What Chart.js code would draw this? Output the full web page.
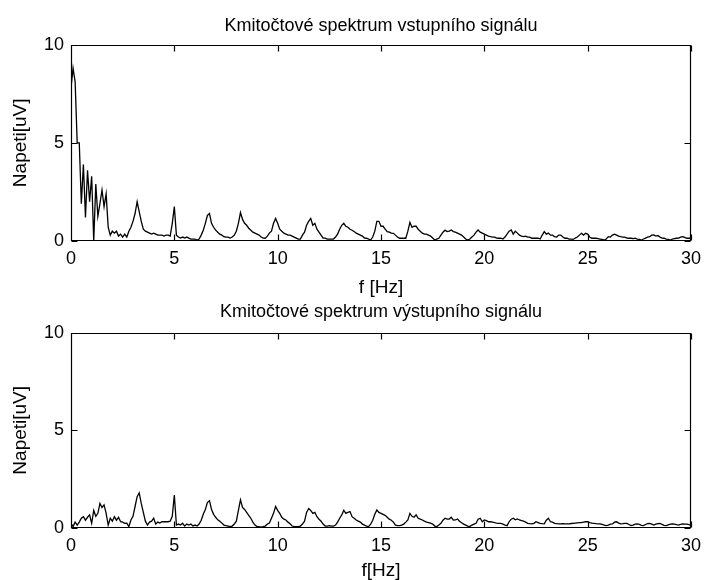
<!DOCTYPE html>
<html>
<head>
<meta charset="utf-8">
<script src="https://cdn.jsdelivr.net/npm/chart.js@4.4.1/dist/chart.umd.min.js"></script>
<style>
  body { margin: 0; background: #fff; }
  #wrap { position: relative; width: 708px; height: 580px; }
  #topChart { position: absolute; left: 0; top: 0; }
  #bottomChart { position: absolute; left: 0; top: 300px; }
</style>
</head>
<body>
<div id="wrap">
  <canvas id="topChart" width="708" height="300"></canvas>
  <canvas id="bottomChart" width="708" height="280"></canvas>
</div>
<script>
// spectrum sampled every 0.1 Hz from 0 to 30 Hz
const freqStep = 0.1;

// input signal spectrum [uV]
const inputSpectrum = [
  7.8, 8.8, 8.1, 5.0, 5.0, 1.9, 3.9, 1.2, 3.6, 2.0,
  3.3, 0.0, 2.9, 1.25, 1.9, 2.6, 1.75, 2.4, 0.7, 0.3,
  0.5, 0.4, 0.5, 0.25, 0.35, 0.2, 0.35, 0.2, 0.5, 0.7,
  1.0, 1.4, 2.0, 1.5, 1.0, 0.6, 0.5, 0.45, 0.4, 0.35,
  0.4, 0.35, 0.3, 0.3, 0.3, 0.25, 0.3, 0.3, 0.25, 0.9,
  1.75, 0.3, 0.2, 0.15, 0.2, 0.15, 0.2, 0.15, 0.1, 0.1,
  0.1, 0.05, 0.1, 0.3, 0.55, 0.9, 1.3, 1.4, 0.9, 0.7,
  0.55, 0.45, 0.35, 0.3, 0.22, 0.2, 0.2, 0.15, 0.2, 0.3,
  0.5, 0.9, 1.45, 1.1, 0.9, 0.8, 0.65, 0.55, 0.45, 0.4,
  0.35, 0.3, 0.2, 0.15, 0.14, 0.25, 0.4, 0.5, 0.9, 1.15,
  0.9, 0.6, 0.5, 0.4, 0.35, 0.3, 0.3, 0.25, 0.2, 0.15,
  0.1, 0.1, 0.3, 0.45, 0.8, 1.0, 1.15, 0.8, 0.9, 0.6,
  0.45, 0.3, 0.15, 0.15, 0.1, 0.1, 0.1, 0.1, 0.2, 0.35,
  0.6, 0.8, 0.9, 0.75, 0.7, 0.6, 0.55, 0.48, 0.4, 0.35,
  0.3, 0.25, 0.15, 0.14, 0.1, 0.05, 0.2, 0.5, 1.0, 1.0,
  0.75, 0.75, 0.6, 0.48, 0.45, 0.4, 0.39, 0.3, 0.2, 0.14,
  0.14, 0.14, 0.14, 0.5, 0.95, 0.7, 0.75, 0.75, 0.6, 0.5,
  0.4, 0.35, 0.35, 0.3, 0.25, 0.15, 0.05, 0.1, 0.14, 0.3,
  0.45, 0.55, 0.48, 0.5, 0.56, 0.48, 0.45, 0.4, 0.35, 0.3,
  0.2, 0.1, 0.05, 0.1, 0.2, 0.3, 0.45, 0.56, 0.45, 0.4,
  0.35, 0.3, 0.25, 0.22, 0.2, 0.2, 0.15, 0.14, 0.14, 0.1,
  0.2, 0.35, 0.5, 0.56, 0.35, 0.5, 0.4, 0.3, 0.25, 0.22,
  0.25, 0.2, 0.2, 0.14, 0.14, 0.15, 0.14, 0.1, 0.3, 0.48,
  0.35, 0.4, 0.3, 0.3, 0.22, 0.2, 0.3, 0.3, 0.2, 0.14,
  0.14, 0.1, 0.1, 0.08, 0.15, 0.2, 0.3, 0.39, 0.3, 0.39,
  0.35, 0.2, 0.14, 0.14, 0.14, 0.12, 0.1, 0.08, 0.05, 0.1,
  0.22, 0.2, 0.3, 0.35, 0.3, 0.25, 0.22, 0.2, 0.2, 0.15,
  0.14, 0.14, 0.12, 0.14, 0.1, 0.08, 0.05, 0.1, 0.15, 0.2,
  0.22, 0.3, 0.31, 0.25, 0.28, 0.2, 0.15, 0.14, 0.1, 0.08,
  0.05, 0.1, 0.12, 0.14, 0.15, 0.2, 0.22, 0.18, 0.14, 0.14,
  0.14
];

// output signal spectrum [uV]
const outputSpectrum = [
  0.24, 0.07, 0.3, 0.15, 0.3, 0.5, 0.58, 0.4, 0.55, 0.67,
  0.24, 0.9, 0.6, 0.75, 1.26, 1.05, 1.18, 0.75, 0.15, 0.5,
  0.35, 0.58, 0.4, 0.55, 0.32, 0.3, 0.24, 0.25, 0.07, 0.41,
  0.6, 1.1, 1.6, 1.8, 1.26, 0.8, 0.35, 0.15, 0.3, 0.35,
  0.5, 0.2, 0.3, 0.25, 0.32, 0.32, 0.32, 0.32, 0.35, 0.6,
  1.69, 0.15, 0.2, 0.15, 0.24, 0.1, 0.2, 0.15, 0.2, 0.1,
  0.15, 0.1, 0.2, 0.4, 0.7, 0.95, 1.3, 1.4, 0.95, 0.7,
  0.55, 0.42, 0.35, 0.25, 0.15, 0.12, 0.1, 0.07, 0.1, 0.2,
  0.35, 0.9, 1.44, 1.05, 0.95, 0.8, 0.65, 0.5, 0.3, 0.15,
  0.07, 0.07, 0.05, 0.07, 0.1, 0.2, 0.25, 0.5, 0.75, 1.1,
  0.9, 0.75, 0.55, 0.45, 0.41, 0.3, 0.22, 0.1, 0.07, 0.07,
  0.07, 0.1, 0.2, 0.35, 0.8, 1.0, 0.9, 0.75, 0.8, 0.58,
  0.45, 0.35, 0.2, 0.1, 0.1, 0.12, 0.1, 0.1, 0.15, 0.3,
  0.5, 0.67, 0.9, 0.75, 0.8, 0.84, 0.58, 0.5, 0.41, 0.35,
  0.3, 0.2, 0.15, 0.1, 0.07, 0.2, 0.4, 0.7, 0.92, 0.8,
  0.75, 0.7, 0.65, 0.55, 0.45, 0.4, 0.3, 0.15, 0.12, 0.12,
  0.15, 0.2, 0.3, 0.41, 0.75, 0.6, 0.55, 0.67, 0.5, 0.45,
  0.41, 0.35, 0.3, 0.28, 0.25, 0.2, 0.1, 0.07, 0.15, 0.24,
  0.4, 0.5, 0.45, 0.46, 0.55, 0.4, 0.41, 0.46, 0.35, 0.27,
  0.2, 0.15, 0.1, 0.07, 0.15, 0.2, 0.24, 0.45, 0.5, 0.32,
  0.41, 0.38, 0.32, 0.32, 0.3, 0.27, 0.25, 0.24, 0.24, 0.2,
  0.15, 0.12, 0.32, 0.45, 0.5, 0.42, 0.46, 0.41, 0.38, 0.35,
  0.3, 0.24, 0.22, 0.21, 0.24, 0.32, 0.28, 0.24, 0.22, 0.21,
  0.4, 0.5, 0.32, 0.3, 0.24, 0.22, 0.21, 0.21, 0.22, 0.21,
  0.21, 0.21, 0.23, 0.24, 0.25, 0.26, 0.27, 0.27, 0.3, 0.32,
  0.32, 0.28, 0.25, 0.24, 0.22, 0.21, 0.21, 0.18, 0.15, 0.12,
  0.15, 0.2, 0.21, 0.3, 0.32, 0.25, 0.21, 0.22, 0.24, 0.24,
  0.18, 0.12, 0.15, 0.2, 0.21, 0.18, 0.14, 0.12, 0.18, 0.22,
  0.24, 0.2, 0.15, 0.2, 0.22, 0.24, 0.18, 0.14, 0.12, 0.16,
  0.2, 0.21, 0.2, 0.17, 0.15, 0.18, 0.21, 0.2, 0.2, 0.17,
  0.15
];

const xTicks = [0, 5, 10, 15, 20, 25, 30];
const yTicks = [0, 5, 10];

const FONT = "'Liberation Sans', Arial, sans-serif";
Chart.defaults.color = '#000';
Chart.defaults.font.family = FONT;

// matlab style box with inward ticks on all four sides
const boxTicks = {
  id: 'boxTicks',
  afterDatasetsDraw(chart) {
    const { ctx, chartArea: a, scales: { x, y } } = chart;
    const L = Math.round(a.left) + 0.5, R = Math.round(a.right) - 0.5;
    const T = Math.round(a.top) + 0.5, B = Math.round(a.bottom) - 0.5;
    ctx.save();
    ctx.strokeStyle = '#000';
    ctx.lineWidth = 1.2;
    ctx.beginPath();
    ctx.rect(L, T, R - L, B - T);
    x.ticks.forEach(t => {
      const px = Math.round(x.getPixelForValue(t.value)) + 0.5;
      ctx.moveTo(px, B); ctx.lineTo(px, B - 6);
      ctx.moveTo(px, T); ctx.lineTo(px, T + 6);
    });
    y.ticks.forEach(t => {
      const py = Math.round(y.getPixelForValue(t.value)) + 0.5;
      ctx.moveTo(L, py); ctx.lineTo(L + 6, py);
      ctx.moveTo(R, py); ctx.lineTo(R - 6, py);
    });
    ctx.stroke();
    ctx.restore();
  }
};

function makeChart(id, values, titleText, xLabel, lay) {
  const points = values.map((v, i) => ({ x: Math.round(i * freqStep * 10) / 10, y: v }));
  return new Chart(document.getElementById(id), {
    type: 'line',
    data: {
      datasets: [{
        data: points,
        borderColor: '#000',
        borderWidth: 1.3,
        pointRadius: 0,
        tension: 0,
        fill: false
      }]
    },
    options: {
      responsive: false,
      animation: false,
      layout: { padding: { left: 0, right: 10, top: 0, bottom: 0 } },
      plugins: {
        legend: { display: false },
        tooltip: { enabled: false },
        title: {
          display: true,
          text: titleText,
          fullSize: false,
          font: { size: 18, weight: 'normal', family: FONT, lineHeight: 1.2 },
          padding: { top: lay.titleTop, bottom: lay.titleBottom }
        }
      },
      scales: {
        x: {
          type: 'linear',
          min: 0,
          max: 30,
          afterBuildTicks: s => { s.ticks = xTicks.map(v => ({ value: v })); },
          afterFit: s => { s.height = lay.xHeight; },
          grid: { display: false, drawTicks: false },
          border: { display: false },
          ticks: { padding: lay.xTickPad, font: { size: 18 }, maxRotation: 0 },
          title: {
            display: true,
            text: xLabel,
            font: { size: 19, lineHeight: 1.0 },
            padding: { top: 0, bottom: lay.xTitleBottom }
          }
        },
        y: {
          min: 0,
          max: 10,
          afterBuildTicks: s => { s.ticks = yTicks.map(v => ({ value: v })); },
          afterFit: s => { s.width = 71; },
          grid: { display: false, drawTicks: false },
          border: { display: false },
          ticks: { padding: 7, font: { size: 18 } },
          title: {
            display: true,
            text: 'Napeti[uV]',
            font: { size: 19, lineHeight: 1.0 },
            padding: { top: 11, bottom: 0 }
          }
        }
      }
    },
    plugins: [boxTicks]
  });
}

makeChart('topChart', inputSpectrum, 'Kmitočtové spektrum vstupního signálu', 'f [Hz]',
  { titleTop: 15, titleBottom: 8, xHeight: 59, xTickPad: 7, xTitleBottom: 3 });
makeChart('bottomChart', outputSpectrum, 'Kmitočtové spektrum výstupního signálu', 'f[Hz]',
  { titleTop: 1, titleBottom: 10, xHeight: 52, xTickPad: 7, xTitleBottom: 0 });
</script>
</body>
</html>
